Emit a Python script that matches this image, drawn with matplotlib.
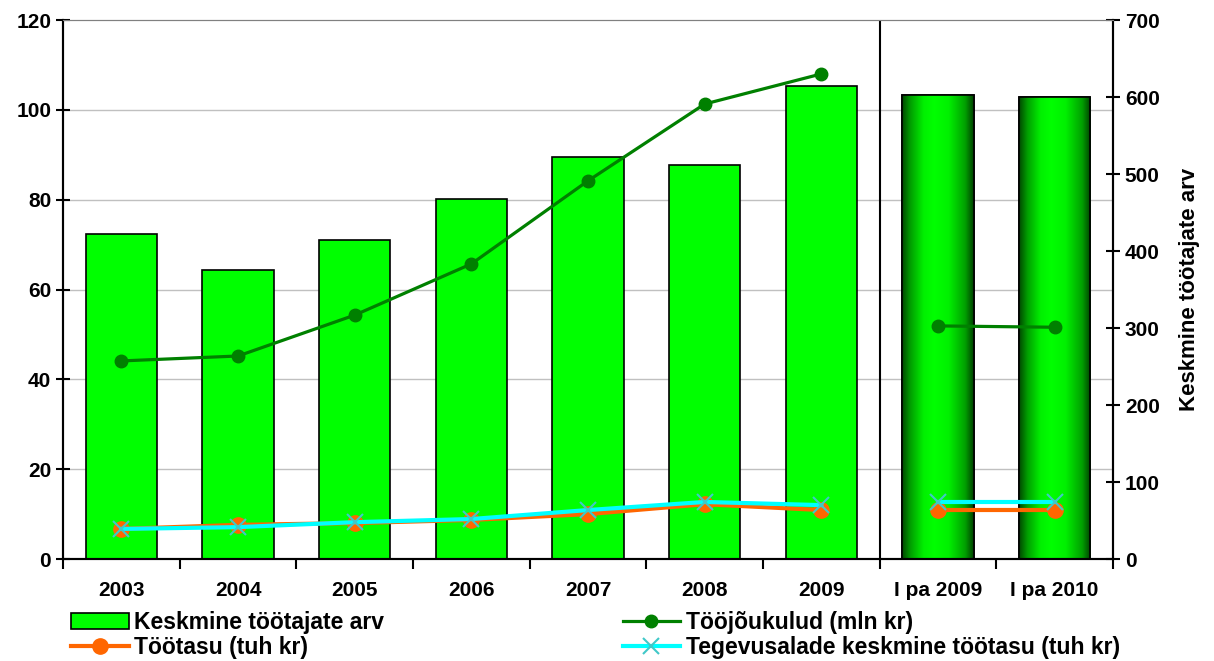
import matplotlib.pyplot as plt
import numpy as np
from matplotlib.colors import LinearSegmentedColormap

# Données
categories = ['2003', '2004', '2005', '2006', '2007', '2008', '2009', 'I pa 2009', 'I pa 2010']
tootajate_arv = [422, 375, 414, 467, 522, 512, 614, 602, 600]
toojoukulud = [44.1, 45.2, 54.3, 65.7, 84.2, 101.3, 108.0, 51.9, 51.6]
tootasu = [6.7, 7.6, 8.0, 8.7, 10.0, 12.2, 10.9, 10.9, 10.9]
tegevusalade = [6.7, 7.1, 8.2, 8.9, 10.9, 12.7, 12.0, 12.7, 12.7]

plt.rcParams['font.family'] = ['Liberation Sans', 'DejaVu Sans']
plt.rcParams['font.weight'] = 'bold'

fig = plt.figure(figsize=(12.14, 6.61), dpi=100)
ax = fig.add_axes([0.0519, 0.1543, 0.8649, 0.8154])
ax2 = ax.twinx()
ax.set_zorder(ax2.get_zorder() + 1)
ax.patch.set_visible(False)

x = np.arange(len(categories))

# Barres (axe de droite)
bars = ax2.bar(x, tootajate_arv, width=0.61, color='#00ff00', edgecolor='black',
               linewidth=1.2, zorder=2)
cmap = LinearSegmentedColormap.from_list('g', [(0, '#004800'), (0.12, '#00a000'), (0.3, '#00f000'),
                                               (0.45, '#00ff00'), (0.65, '#00f000'), (0.88, '#00a000'),
                                               (1, '#004000')])
grad = np.linspace(0, 1, 256).reshape(1, -1)
for i in [7, 8]:
    b = bars[i]
    x0, w, h = b.get_x(), b.get_width(), b.get_height()
    im = ax2.imshow(grad, extent=[x0, x0 + w, 0, h], aspect='auto', cmap=cmap, zorder=2.1)
    im.set_clip_path(b)
    ax2.bar(x[i], h, width=w, facecolor='none', edgecolor='black', linewidth=1.2, zorder=2.2)

ax2.set_ylim(0, 700)
ax2.set_yticks(np.arange(0, 701, 100))
ax2.set_yticks(np.linspace(0, 700, 7), minor=True)
ax2.yaxis.grid(True, which='minor', color='#c0c0c0', linewidth=1)
ax2.tick_params(axis='y', which='minor', length=0)
ax2.tick_params(axis='y', which='major', direction='inout', length=10, width=1.5, labelsize=15)
ax2.set_ylabel('Keskmine töötajate arv', fontsize=16, fontweight='bold', labelpad=14)

# Lignes (axe de gauche)
for s in [slice(0, 7), slice(7, 9)]:
    ax.plot(x[s], toojoukulud[s], color='#008000', linewidth=2.3, marker='o', markersize=9,
            label='Tööjõukulud (mln kr)' if s.start == 0 else None)
    ax.plot(x[s], tootasu[s], color='#ff6600', linewidth=3, marker='o', markersize=11,
            label='Töötasu (tuh kr)' if s.start == 0 else None)
    ax.plot(x[s], tegevusalade[s], color='#00ffff', linewidth=3, marker='x', markersize=12,
            markeredgewidth=1.5, markeredgecolor='#40c8c8',
            label='Tegevusalade keskmine töötasu (tuh kr)' if s.start == 0 else None)

ax.set_ylim(0, 120)
ax.set_yticks(np.arange(0, 121, 20))
ax.tick_params(axis='y', direction='inout', length=10, width=1.5, labelsize=15)
ax.set_xlim(-0.5, len(categories) - 0.5)
ax.set_xticks(x)
ax.set_xticklabels(categories)
ax.set_xticks(np.arange(-0.5, len(categories), 1), minor=True)
ax.tick_params(axis='x', which='major', length=0, labelsize=15, pad=16)
ax.tick_params(axis='x', which='minor', length=7, width=1.5)
ax2.set_xlim(-0.5, len(categories) - 0.5)

# Séparateur
ax.axvline(6.5, color='black', linewidth=1.5)

for a in [ax, ax2]:
    a.spines['top'].set_color('#808080')
    a.spines['left'].set_linewidth(1.5)
    a.spines['right'].set_linewidth(1.5)
    a.spines['bottom'].set_linewidth(1.5)

h1, l1 = ax.get_legend_handles_labels()
handles = [bars, h1[1], h1[0], h1[2]]
labels = ['Keskmine töötajate arv', l1[1], l1[0], l1[2]]
fig.legend(handles, labels, ncol=2, loc='lower left', bbox_to_anchor=(0.055, -0.004),
           frameon=False, fontsize=16.5, handlelength=2.5, columnspacing=10.4,
           handletextpad=0.25, labelspacing=0.1, borderaxespad=0, borderpad=0.2)

plt.savefig('out.png', dpi=100)
